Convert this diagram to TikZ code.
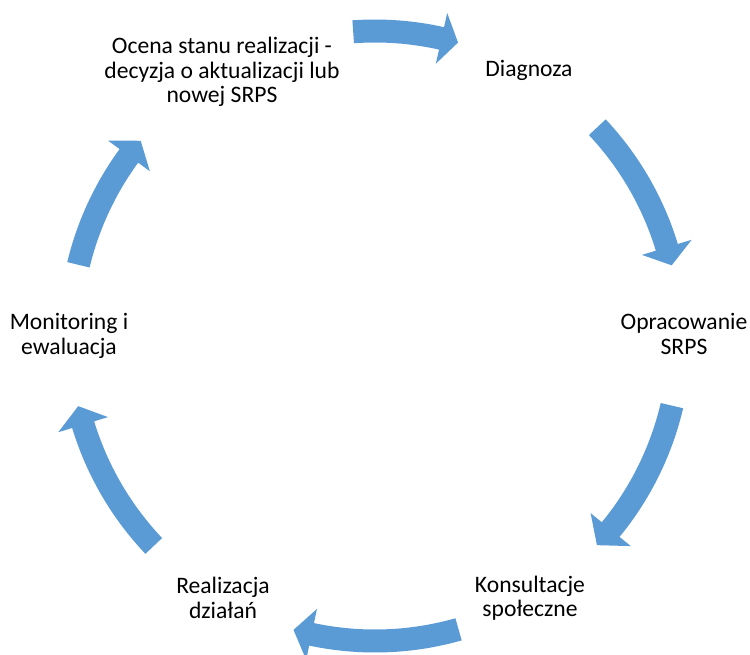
\documentclass[tikz,border=0pt]{standalone}
\usepackage{fontspec}
\setmainfont{Carlito}
\usepackage{tikz}
\definecolor{cycleblue}{HTML}{5B9BD5}
\tikzset{
  stage/.style={align=center, inner sep=0pt, font=\fontsize{23.6}{24.5}\selectfont},
  cyclearrow/.style={fill=cycleblue, draw=none},
}
% curved block arrow: tail angle, head base angle, tip angle
\newcommand{\cyclearr}[3]{%
  \fill[cyclearrow] (#1:293.5pt) arc[start angle=#1, end angle=#2, radius=293.5pt]
    -- (#2:279pt) -- (#3:305pt) -- (#2:331pt) -- (#2:316.5pt)
    arc[start angle=#2, end angle=#1, radius=316.5pt] -- cycle;
}

\begin{document}
\begin{tikzpicture}[x=1pt, y=1pt]
  \useasboundingbox (-375,-318) rectangle (375,336);
  % stages
  \node[stage] (ocena) at (-153,264) {Ocena stanu realizacji -\\decyzja o aktualizacji lub\\nowej SRPS};
  \node[stage] (diag) at (154,266) {Diagnoza};
  \node[stage] (oprac) at (309,2) {Opracowanie\\SRPS};
  \node[stage] (konsult) at (155,-262) {Konsultacje\\społeczne};
  \node[stage] (realiz) at (-152,-262) {Realizacja\\działań};
  \node[stage] (monit) at (-306,0) {Monitoring i\\ewaluacja};
  % arrows
  \cyclearr{94.1}{77.4}{74.2}
  \cyclearr{43.2}{16.9}{13.4}
  \cyclearr{-13.2}{-39.4}{-43.3}
  \cyclearr{-74.1}{-102}{-105.5}
  \cyclearr{223.5}{196.9}{193.3}
  \cyclearr{166.5}{143.8}{140.2}
\end{tikzpicture}
\end{document}
